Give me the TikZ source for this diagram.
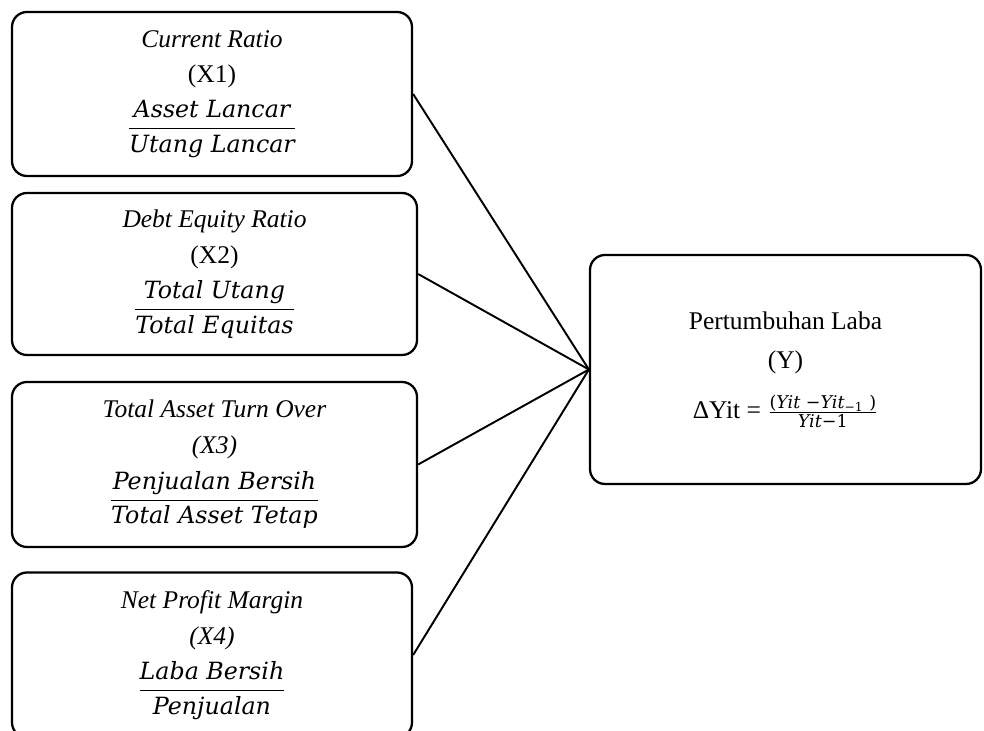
\documentclass[tikz,border=0pt]{standalone}
\usepackage{fontspec}
\setmainfont{Liberation Serif}
\newfontfamily\mw{DejaVu Serif}
\newcommand{\rasio}[2]{$\displaystyle\frac{\hbox{\mw\itshape\fontsize{13.5}{16}\selectfont #1}}{\hbox{\mw\itshape\fontsize{13.5}{16}\selectfont #2}}$}
\newcommand{\kecil}{\mw\fontsize{10}{12}\selectfont}

\begin{document}
\begin{tikzpicture}[font=\fontsize{14.5}{20.4}\selectfont,
   kotak/.style={draw, rounded corners=0.3cm, line width=1.3pt, align=center, inner sep=0pt},
   garis/.style={line width=1.1pt}]
   \useasboundingbox (0,0) rectangle (19.68,-14.62);
   \draw (4.24,-1.88) node[kotak, minimum width=8cm, minimum height=3.28cm] (x1)
      {\textit{Current Ratio}\\ (X1)\\[6pt] \rasio{Asset Lancar}{Utang Lancar}};
   \draw (4.29,-5.48) node[kotak, minimum width=8.1cm, minimum height=3.24cm] (x2)
      {\textit{Debt Equity Ratio}\\ (X2)\\[6pt] \rasio{Total Utang}{Total Equitas}};
   \draw (4.29,-9.29) node[kotak, minimum width=8.1cm, minimum height=3.3cm] (x3)
      {\textit{Total Asset Turn Over}\\ \textit{(X3)}\\[6pt] \rasio{Penjualan Bersih}{Total Asset Tetap}};
   \draw (4.24,-13.10) node[kotak, minimum width=8cm, minimum height=3.3cm] (x4)
      {\textit{Net Profit Margin}\\ \textit{(X4)}\\[6pt] \rasio{Laba Bersih}{Penjualan}};
   \draw (15.71,-7.39) node[kotak, minimum width=7.82cm, minimum height=4.58cm] (y)
      {Pertumbuhan Laba\\[2pt] (Y)\\[8pt] ΔYit = $\frac{\hbox{\kecil(\textit{Yit} −\textit{Yit}\textsubscript{−1} )}}{\hbox{\kecil\textit{Yit}−1}}$};
   \draw[garis] (x1.east) -- (y.west);
   \draw[garis] (x2.east) -- (y.west);
   \draw[garis] (x3.east) -- (y.west);
   \draw[garis] (x4.east) -- (y.west);
\end{tikzpicture}
\end{document}
